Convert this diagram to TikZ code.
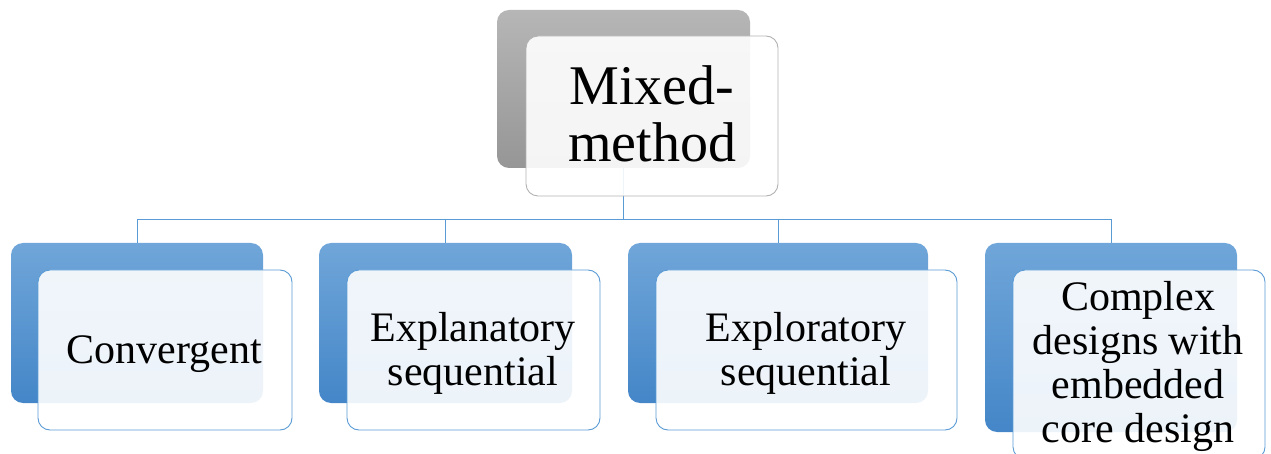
\documentclass[tikz,border=0pt]{standalone}
\usepackage{fontspec}
\setmainfont{Liberation Serif}
\definecolor{bblue}{RGB}{91,155,213}
\definecolor{btop}{RGB}{112,166,217}
\definecolor{bbot}{RGB}{68,134,200}
\definecolor{gtop}{RGB}{182,182,182}
\definecolor{gbot}{RGB}{150,150,150}
\definecolor{gborder}{RGB}{178,178,178}
\tikzset{
  backblue/.style={rectangle, rounded corners=12pt, inner sep=0pt, outer sep=0pt, top color=btop, bottom color=bbot, draw=none},
  backgray/.style={rectangle, rounded corners=12pt, inner sep=0pt, outer sep=0pt, top color=gtop, bottom color=gbot, draw=none},
  frontblue/.style={rectangle, rounded corners=12pt, inner sep=0pt, outer sep=0pt, fill=white, fill opacity=0.9, draw=bblue, draw opacity=1, line width=0.9pt},
  frontgray/.style={rectangle, rounded corners=12pt, inner sep=0pt, outer sep=0pt, fill=white, fill opacity=0.9, draw=gborder, draw opacity=1, line width=0.9pt},
  conn/.style={draw=bblue, line width=0.9pt},
  bottext/.style={align=center, inner sep=0pt, font=\fontsize{42}{44}\selectfont, text=black},
  toptext/.style={align=center, inner sep=0pt, font=\fontsize{56}{57}\selectfont, text=black},
}
\begin{document}
\begin{tikzpicture}[x=1pt,y=-1pt]
\useasboundingbox (0,0) rectangle (1271,454);
% back boxes
\node[backgray, minimum width=253pt, minimum height=158pt] (tb) at (623.5,89) {};
\node[backblue, minimum width=252pt, minimum height=160pt] (b1) at (137,323) {};
\node[backblue, minimum width=253pt, minimum height=160pt] (b2) at (445.5,323) {};
\node[backblue, minimum width=300pt, minimum height=160pt] (b3) at (778,323) {};
\node[backblue, minimum width=252pt, minimum height=189pt] (b4) at (1111,337.5) {};
% connectors
\coordinate (j) at (623.5,219);
\draw[conn] (tb.south) -- (j);
\draw[conn] (j) -| (b1.north);
\draw[conn] (j) -| (b2.north);
\draw[conn] (j) -| (b3.north);
\draw[conn] (j) -| (b4.north);
% front boxes
\node[frontgray, minimum width=252pt, minimum height=160pt] (tf) at (652,116) {};
\node[frontblue, minimum width=254pt, minimum height=160pt] (f1) at (165,350) {};
\node[frontblue, minimum width=253pt, minimum height=160pt] (f2) at (473.5,350) {};
\node[frontblue, minimum width=301pt, minimum height=160pt] (f3) at (806.5,350) {};
\node[frontblue, minimum width=252pt, minimum height=189pt] (f4) at (1139,364.5) {};
% texts
\node[toptext] (t0) at (652,113.5) {Mixed-\\method};
\node[bottext] (t1) at (164.5,354.6) {Convergent};
\node[bottext] (t2) at (473,353.6) {Explanatory\\sequential};
\node[bottext] (t3) at (806,353.6) {Exploratory\\sequential};
\node[bottext] (t4) at (1138,366.8) {Complex\\designs with\\embedded\\core design};
\end{tikzpicture}
\end{document}
